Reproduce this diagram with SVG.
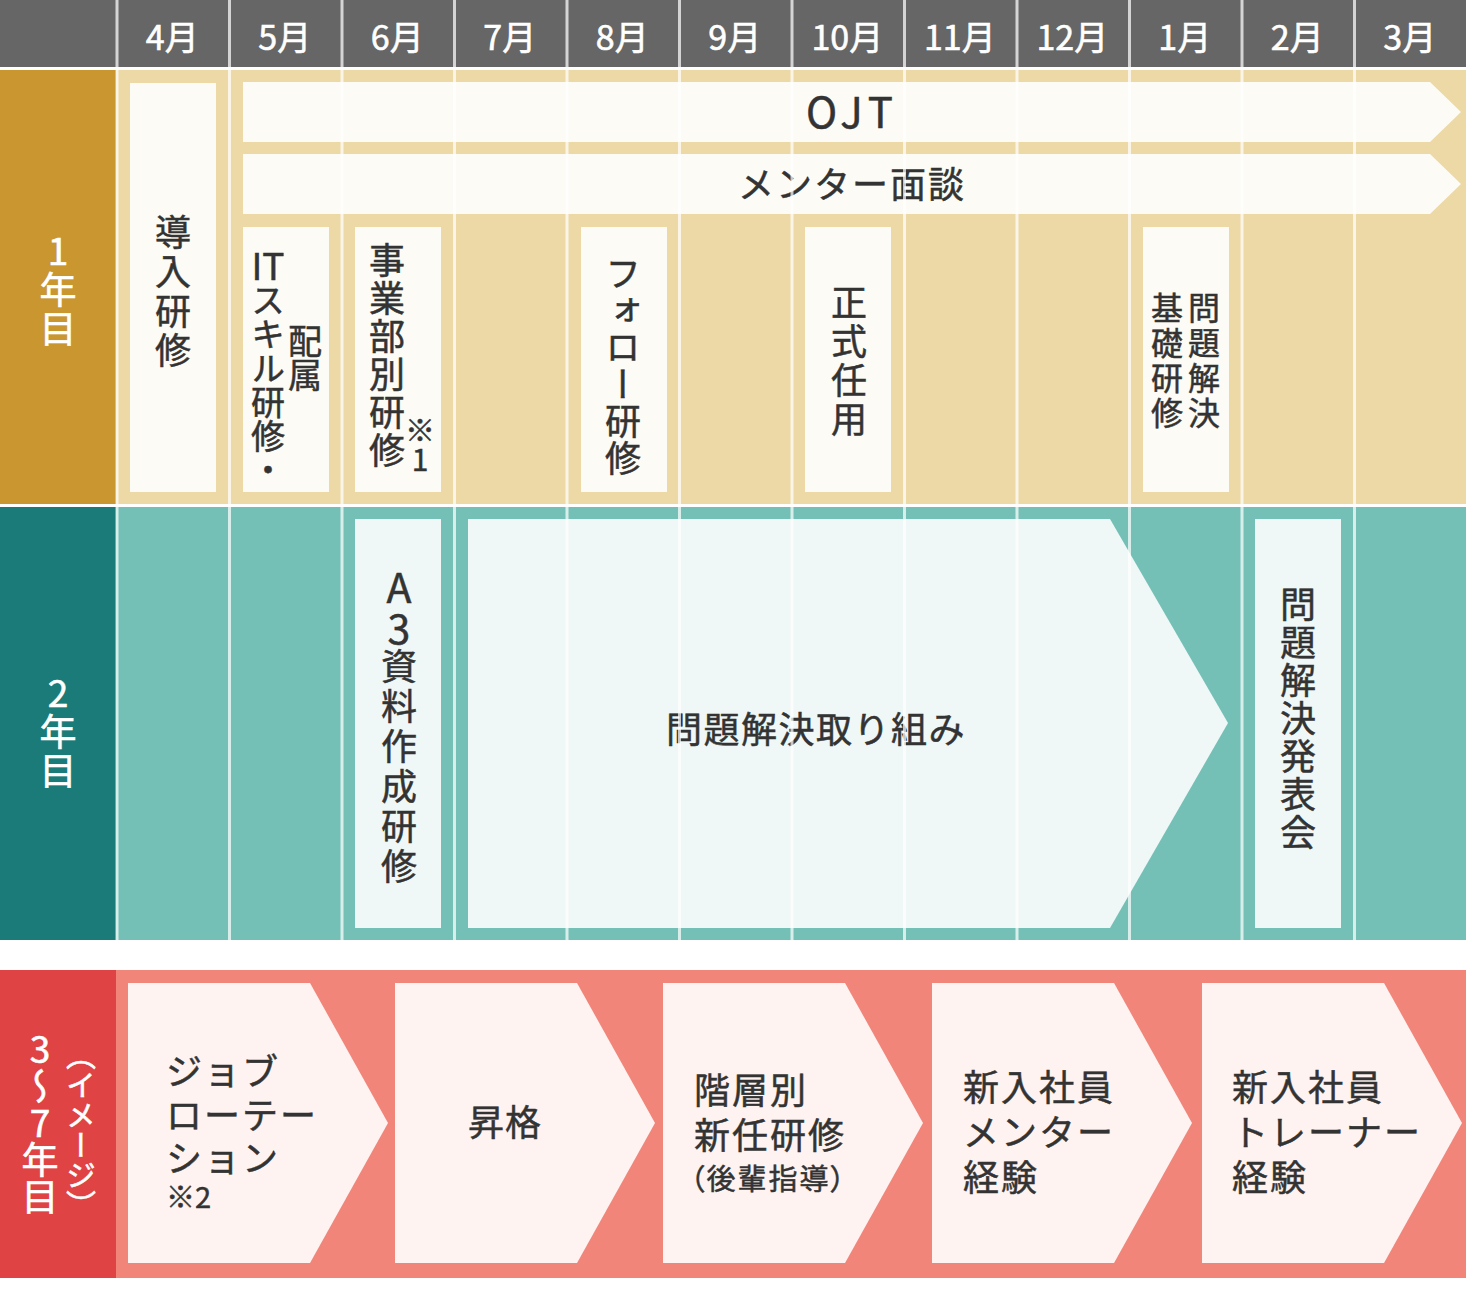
<svg xmlns="http://www.w3.org/2000/svg" width="1466" height="1305" viewBox="0 0 1466 1305">
<style>
text{font-family:"Noto Sans CJK JP","Noto Sans",sans-serif;}
.hd{fill:#fff;stroke:#fff;stroke-width:0.6px;font-size:34px;text-anchor:middle;}
.lb{fill:#fff;stroke:#fff;stroke-width:0.6px;font-size:37px;writing-mode:vertical-rl;text-orientation:upright;letter-spacing:2px;}
.vt{fill:#333;stroke:#333;stroke-width:0.5px;font-size:36px;writing-mode:vertical-rl;text-orientation:upright;}
.ht{fill:#333;stroke:#333;stroke-width:0.5px;font-size:36px;}
.box1{fill:#FCFBF5;}
.box2{fill:#EFF8F6;}
.chev{fill:#FEF3F1;}
.grid{stroke:#fff;stroke-opacity:0.72;stroke-width:3;}
</style>
<rect width="1466" height="1305" fill="#fff"/>
<g id="header">
<rect x="0" y="0" width="1466" height="67" fill="#666"/>
<text class="hd" x="172.3" y="50">4月</text>
<text class="hd" x="284.8" y="50">5月</text>
<text class="hd" x="397.3" y="50">6月</text>
<text class="hd" x="509.8" y="50">7月</text>
<text class="hd" x="622.3" y="50">8月</text>
<text class="hd" x="734.8" y="50">9月</text>
<text class="hd" x="847.3" y="50">10月</text>
<text class="hd" x="959.8" y="50">11月</text>
<text class="hd" x="1072.3" y="50">12月</text>
<text class="hd" x="1184.8" y="50">1月</text>
<text class="hd" x="1297.3" y="50">2月</text>
<text class="hd" x="1409.8" y="50">3月</text>
</g>
<g id="row1">
<rect x="0" y="70" width="116" height="434" fill="#C9962F"/>
<rect x="116" y="70" width="1350" height="434" fill="#EDD9A6"/>
<text class="lb" x="58" y="232">1年目</text>
</g>
<g id="row2">
<rect x="0" y="507" width="116" height="433" fill="#1B7B79"/>
<rect x="116" y="507" width="1350" height="433" fill="#75C0B6"/>
<text class="lb" x="58" y="674">2年目</text>
</g>
<g id="row3">
<rect x="0" y="970" width="116" height="308" fill="#E04343"/>
<rect x="116" y="970" width="1350" height="308" fill="#F28579"/>
<text class="lb" x="40" y="1030" style="letter-spacing:0">3〜7年目</text>
<text class="lb" x="81" y="1040" style="font-size:30px;letter-spacing:0">（イメージ）</text>
</g>
<g id="n-dounyu">
<rect class="box1" x="130" y="83" width="86" height="409"/>
<text class="vt" x="173" y="214" style="letter-spacing:3.5px">導入研修</text>
</g>
<g id="n-ojt">
<polygon class="box1" points="243,82 1430,82 1461,112 1430,142 243,142"/>
<text class="ht" x="852" y="128" text-anchor="middle" style="font-size:42px;letter-spacing:5px">OJT</text>
</g>
<g id="n-mentor">
<polygon class="box1" points="243,154 1430,154 1461,184 1430,214 243,214"/>
<text class="ht" x="852" y="198" text-anchor="middle" style="letter-spacing:2px">メンター面談</text>
</g>
<g id="n-it">
<rect class="box1" x="243" y="227" width="86" height="265"/>
<text class="ht" x="268" y="280" text-anchor="middle" style="font-size:37px">IT</text>
<text class="vt" x="268" y="283" style="font-size:34px">スキル研修・</text>
<text class="vt" x="305" y="324" style="font-size:34px">配属</text>
</g>
<g id="n-jigyo">
<rect class="box1" x="355" y="227" width="86" height="265"/>
<text class="vt" x="387" y="242" style="letter-spacing:2px">事業部別研修</text>
<text class="vt" x="420" y="415" style="font-size:30px">※1</text>
</g>
<g id="n-follow">
<rect class="box1" x="581" y="227" width="86" height="265"/>
<text class="vt" x="623" y="255" style="letter-spacing:1px">フォロー研修</text>
</g>
<g id="n-seishiki">
<rect class="box1" x="805" y="227" width="86" height="265"/>
<text class="vt" x="849" y="284" style="letter-spacing:3px">正式任用</text>
</g>
<g id="n-kiso">
<rect class="box1" x="1143" y="227" width="86" height="265"/>
<text class="vt" x="1186" y="292" style="font-size:32px;letter-spacing:3px"><tspan x="1204" y="292">問題解決</tspan><tspan x="1167" y="292">基礎研修</tspan></text>
</g>
<g id="n-a3">
<rect class="box2" x="355" y="519" width="86" height="409"/>
<text class="vt" x="399" y="567" style="font-size:41px;letter-spacing:0">A3</text>
<text class="vt" x="399" y="648" style="letter-spacing:4px">資料作成研修</text>
</g>
<g id="n-mondai">
<polygon class="box2" points="468,519 1110,519 1228,723 1110,928 468,928"/>
<text class="ht" x="816" y="743" text-anchor="middle" style="letter-spacing:1.5px">問題解決取り組み</text>
</g>
<g id="n-happyo">
<rect class="box2" x="1255" y="519" width="86" height="409"/>
<text class="vt" x="1298" y="586" style="letter-spacing:2px">問題解決発表会</text>
</g>
<g id="connectors">
<line class="grid" x1="117" y1="0" x2="117" y2="940"/>
<line class="grid" x1="229.5" y1="0" x2="229.5" y2="940"/>
<line class="grid" x1="342" y1="0" x2="342" y2="940"/>
<line class="grid" x1="454.5" y1="0" x2="454.5" y2="940"/>
<line class="grid" x1="567" y1="0" x2="567" y2="940"/>
<line class="grid" x1="679.5" y1="0" x2="679.5" y2="940"/>
<line class="grid" x1="792" y1="0" x2="792" y2="940"/>
<line class="grid" x1="904.5" y1="0" x2="904.5" y2="940"/>
<line class="grid" x1="1017" y1="0" x2="1017" y2="940"/>
<line class="grid" x1="1129.5" y1="0" x2="1129.5" y2="940"/>
<line class="grid" x1="1242" y1="0" x2="1242" y2="940"/>
<line class="grid" x1="1354.5" y1="0" x2="1354.5" y2="940"/>
</g>
<g id="n-job">
<polygon class="chev" points="128,983 310,983 388,1123 310,1263 128,1263"/>
<text class="ht" x="166" y="1085" style="letter-spacing:2px">ジョブ</text>
<text class="ht" x="166" y="1129" style="letter-spacing:2px">ローテー</text>
<text class="ht" x="166" y="1172" style="letter-spacing:2px">ション</text>
<text class="ht" x="166" y="1208" style="font-size:29px">※2</text>
</g>
<g id="n-shokaku">
<polygon class="chev" points="395,983 577,983 655,1123 577,1263 395,1263"/>
<text class="ht" x="505" y="1136" text-anchor="middle" style="letter-spacing:1px">昇格</text>
</g>
<g id="n-kaiso">
<polygon class="chev" points="663,983 845,983 923,1123 845,1263 663,1263"/>
<text class="ht" x="694" y="1104" style="letter-spacing:2px">階層別</text>
<text class="ht" x="694" y="1149" style="letter-spacing:2px">新任研修</text>
<text class="ht" x="690" y="1190" style="font-size:29px;letter-spacing:2px;font-feature-settings:'palt'">（後輩指導）</text>
</g>
<g id="n-mentorexp">
<polygon class="chev" points="932,983 1114,983 1192,1123 1114,1263 932,1263"/>
<text class="ht" x="963" y="1101" style="letter-spacing:2px">新入社員</text>
<text class="ht" x="963" y="1146" style="letter-spacing:2px">メンター</text>
<text class="ht" x="963" y="1191" style="letter-spacing:2px">経験</text>
</g>
<g id="n-trainer">
<polygon class="chev" points="1202,983 1384,983 1462,1123 1384,1263 1202,1263"/>
<text class="ht" x="1232" y="1101" style="letter-spacing:2px">新入社員</text>
<text class="ht" x="1232" y="1146" style="letter-spacing:2px">トレーナー</text>
<text class="ht" x="1232" y="1191" style="letter-spacing:2px">経験</text>
</g>
</svg>
